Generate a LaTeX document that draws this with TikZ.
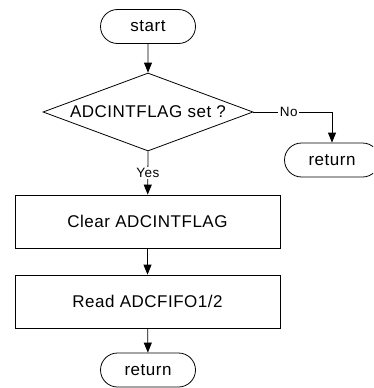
\documentclass[tikz,border=0pt]{standalone}
\usepackage{fontspec}
\setmainfont{Liberation Sans}[LetterSpace=3]
\usetikzlibrary{shapes.geometric,shapes.misc,arrows.meta}
\begin{document}
\begin{tikzpicture}[x=1pt,y=-1pt,
  every node/.style={font=\fontsize{17}{19}\selectfont, inner sep=0pt},
  term/.style={draw, line width=0.8pt, rounded rectangle, minimum width=95pt, minimum height=34pt},
  proc/.style={draw, line width=0.8pt, rectangle, minimum width=265pt, minimum height=53pt},
  dec/.style={draw, line width=0.8pt, diamond, minimum width=210pt, minimum height=78pt, aspect=2.7},
  flow/.style={line width=0.8pt, -{Triangle[width=8pt,length=10pt]}},
  lbl/.style={fill=white, inner sep=1.5pt, font=\fontsize{13.5}{15}\selectfont}
]
\clip (0,0) rectangle (373,388);
\node[term] (start) at (148,26.5) {start};
\node[dec] (d) at (148,112) {ADCINTFLAG set ?};
\node[term] (r1) at (332,160) {return};
\node[proc] (clr) at (147.5,221.5) {Clear ADCINTFLAG};
\node[proc] (rd) at (147.5,301.5) {Read ADCFIFO1/2};
\node[term] (r2) at (148,370) {return};
\coordinate (c1) at (332,112);
\draw[flow] (start) -- (d);
\draw[flow] (d.east) -- node[lbl, pos=0.45] {No} (c1) -- (r1);
\draw[flow] (d.south) -- node[lbl, pos=0.5] {Yes} (clr);
\draw[flow] (clr) -- (rd);
\draw[flow] (rd) -- (r2);
\end{tikzpicture}
\end{document}
